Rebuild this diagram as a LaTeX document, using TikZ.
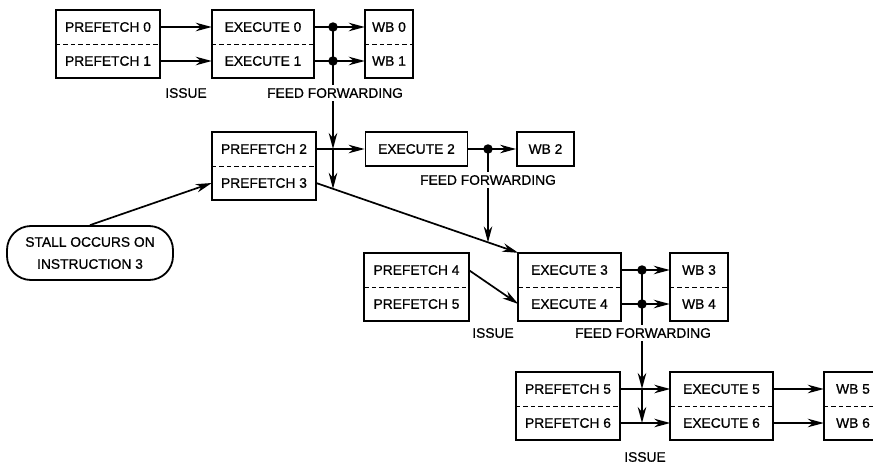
\documentclass[tikz,border=0pt]{standalone}
\usepackage{fontspec}
\setmainfont{Liberation Sans}[FakeBold=0.8]
\usetikzlibrary{arrows.meta,calc}

\begin{document}
\begin{tikzpicture}[x=1pt, y=-1pt,
  font=\fontsize{13.8}{22}\selectfont,
  cell/.style={minimum height=34pt, inner sep=0pt},
  pf/.style={cell, minimum width=104pt},
  ex/.style={cell, minimum width=102pt},
  wbc/.style={cell, minimum width=48pt},
  frame/.style={line width=1.8pt},
  sep/.style={line width=1.1pt, dash pattern=on 4.5pt off 3pt},
  ln/.style={line width=1.7pt},
  arr/.style={ln, -{Stealth[length=16pt, width=8.5pt, inset=5pt]}},
  dot/.style={circle, fill, inner sep=0pt, minimum size=9.5pt},
  lab/.style={inner sep=3pt},
  note/.style={draw, frame, rounded corners=24pt, align=center,
               minimum width=166pt, minimum height=54pt}
]
\useasboundingbox (0,0) rectangle (873,463);
\clip (0,0) rectangle (873,463);
% ----- row 1: instructions 0 and 1 -----
\node[pf]  (p0)  at (108,27)   {PREFETCH 0};
\node[pf]  (p1)  at (108,61)   {PREFETCH 1};
\node[ex]  (e0)  at (263,27)   {EXECUTE 0};
\node[ex]  (e1)  at (263,61)   {EXECUTE 1};
\node[wbc] (wb0) at (389,27)   {WB 0};
\node[wbc] (wb1) at (389,61)   {WB 1};
\node[lab] (iss1) at (186,93)  {ISSUE};
\node[lab] (ff1)  at (335,93)  {FEED FORWARDING};
% ----- row 2: instructions 2 and 3 -----
\node[pf]  (p2)  at (264,149)  {PREFETCH 2};
\node[pf]  (p3)  at (264,183)  {PREFETCH 3};
\node[ex, draw, frame]  (e2)  at (416.5,149) {EXECUTE 2};
\node[wbc, draw, frame, minimum width=57pt] (wb2) at (545.5,149) {WB 2};
\node[lab] (ff2)  at (488,180) {FEED FORWARDING};
\node[note] (stall) at (90,253) {STALL OCCURS ON\\INSTRUCTION 3};
% ----- row 3: instructions 3 and 4 -----
\node[pf]  (p4)  at (416.5,270) {PREFETCH 4};
\node[pf]  (p5)  at (416.5,304) {PREFETCH 5};
\node[ex]  (e3)  at (569.5,270) {EXECUTE 3};
\node[ex]  (e4)  at (569.5,304) {EXECUTE 4};
\node[wbc, minimum width=58pt] (wb3) at (699,270) {WB 3};
\node[wbc, minimum width=58pt] (wb4) at (699,304) {WB 4};
\node[lab] (iss3) at (493,333) {ISSUE};
\node[lab] (ff3)  at (643,333) {FEED FORWARDING};
% ----- row 4: instructions 5 and 6 -----
\node[pf]  (q5)  at (568,389)   {PREFETCH 5};
\node[pf]  (q6)  at (568,423)   {PREFETCH 6};
\node[ex]  (e5)  at (721.5,389) {EXECUTE 5};
\node[ex]  (e6)  at (721.5,423) {EXECUTE 6};
\node[wbc, minimum width=58pt] (wb5) at (853,389) {WB 5};
\node[wbc, minimum width=58pt] (wb6) at (853,423) {WB 6};
\node[lab] (iss4) at (645,457) {ISSUE};
% ----- split boxes -----
\foreach \a/\b in {p0/p1, e0/e1, wb0/wb1, p2/p3, p4/p5, e3/e4, wb3/wb4, q5/q6, e5/e6, wb5/wb6}{
  \draw[frame] (\a.north west) rectangle (\b.south east);
  \draw[sep] (\a.south west) -- (\a.south east);
}
% ----- stage to stage -----
\foreach \a/\b in {p0/e0, p1/e1, e0/wb0, e1/wb1, p2/e2, e2/wb2, e3/wb3, e4/wb4,
                   q5/e5, q6/e6, e5/wb5, e6/wb6}{\draw[arr] (\a.east) -- (\b.west);}
\draw[arr] (p4.east) -- (e4.west);
\draw[arr] (stall.north) -- (p3.west);
\draw[arr] (p3.east) -- (e3.north west);
% ----- feed forwarding -----
\coordinate (d0) at (333,27);
\coordinate (d1) at (333,61);
\coordinate (d2) at (488,149);
\coordinate (d3) at (642,270);
\coordinate (d4) at (642,304);
\coordinate (x1) at ($(p3.east)!0.084!(e3.north west)$);
\coordinate (x2) at ($(p3.east)!0.851!(e3.north west)$);
\draw[ln]  (d0) -- (d0 |- ff1.north);
\draw[arr] (d0 |- ff1.south) -- (d0 |- p2.east);
\draw[arr] (d0 |- p2.east) -- (d0 |- x1);
\draw[ln]  (d2) -- (d2 |- ff2.north);
\draw[arr] (d2 |- ff2.south) -- (d2 |- x2);
\draw[ln]  (d3) -- (d3 |- ff3.north);
\draw[arr] (d3 |- ff3.south) -- (d3 |- q5.east);
\draw[arr] (d3 |- q5.east) -- (d3 |- q6.east);
\foreach \d in {d0, d1, d2, d3, d4}{\node[dot] at (\d) {};}
\end{tikzpicture}
\end{document}
